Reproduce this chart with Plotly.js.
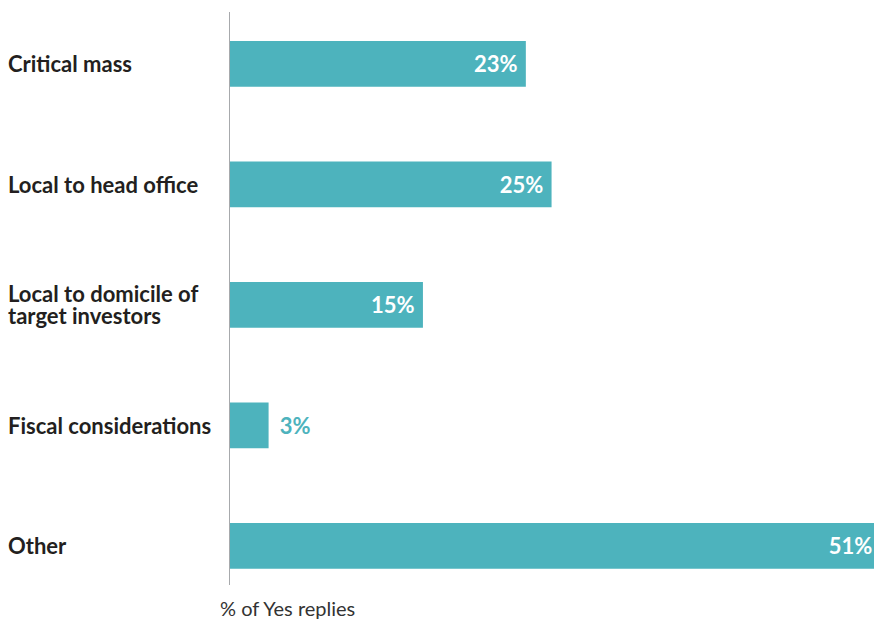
<!DOCTYPE html>
<html>
<head>
<meta charset="utf-8">
<script src="https://cdn.plot.ly/plotly-3.0.1.min.js"></script>
<style>html,body{margin:0;padding:0;background:#fff;overflow:hidden;}</style>
</head>
<body>
<div id="chart" style="width:886px;height:619px;"></div>
<script>
const categories = ["Critical mass", "Local to head office", "Local to domicile of target investors", "Fiscal considerations", "Other"];
const labelLines = [["Critical mass"], ["Local to head office"], ["Local to domicile of", "target investors"], ["Fiscal considerations"], ["Other"]];
const values = [23, 25, 15, 3, 51];
const textPositions = ["inside", "inside", "inside", "outside", "inside"];
const axisTitle = "% of Yes replies";

const barColor = "#4db3bd";
const NB = "\u00a0";

const trace = {
  type: "bar",
  orientation: "h",
  y: categories,
  x: values,
  width: 0.38,
  marker: {color: barColor},
  textposition: textPositions,
  texttemplate: values.map((v, i) => textPositions[i] === "inside" ? (i === 4 ? "%{x}%" + NB + NB : "%{x}%" + NB) : NB + "\u2009" + "%{x}%"),
  insidetextanchor: "end",
  insidetextfont: {family: "Lato", size: 22, color: "#ffffff", weight: 700},
  outsidetextfont: {family: "Lato", size: 22, color: barColor, weight: 700},
  textangle: 0,
  constraintext: "none",
  cliponaxis: false,
  hoverinfo: "skip"
};

const annotations = [];
labelLines.forEach((lines, i) => {
  const n = lines.length;
  lines.forEach((ln, j) => {
    annotations.push({
      xref: "paper", yref: "y",
      x: 0, y: categories[i],
      xanchor: "left", yanchor: "middle",
      xshift: -224,
      yshift: n > 1 ? (j === 0 ? 11.5 : -10.5) : 0,
      text: ln,
      showarrow: false,
      align: "left",
      font: {family: "Lato", size: 22, color: "#231f20", weight: 700}
    });
  });
});
annotations.push({
  xref: "paper", yref: "paper",
  x: 0, y: 0,
  xanchor: "left", yanchor: "top",
  xshift: -12, yshift: -9,
  text: axisTitle,
  showarrow: false,
  font: {family: "Lato", size: 20, color: "#333333"}
});

const layout = {
  width: 886, height: 619,
  margin: {l: 230, r: 0, t: 12, b: 34, pad: 0},
  paper_bgcolor: "#ffffff",
  plot_bgcolor: "#ffffff",
  showlegend: false,
  xaxis: {range: [0, 51], showgrid: false, zeroline: false, showticklabels: false, ticks: "", showline: false},
  yaxis: {type: "category", categoryorder: "array", categoryarray: categories, range: [4.325, -0.43],
          showgrid: false, zeroline: false, showticklabels: false, ticks: "",
          showline: true, linecolor: "#a7a9ac", linewidth: 1},
  annotations: annotations
};

Plotly.newPlot("chart", [trace], layout, {displayModeBar: false, staticPlot: true});
</script>
</body>
</html>
